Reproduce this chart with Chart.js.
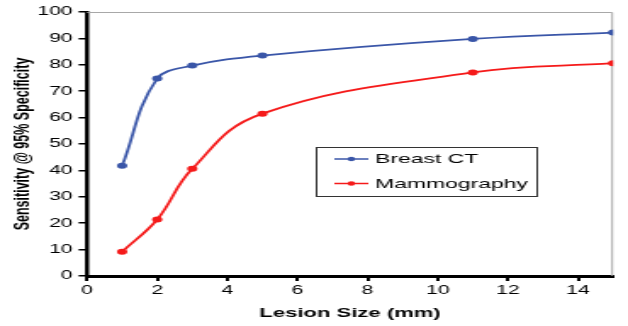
<!DOCTYPE html>
<html>
<head>
<meta charset="utf-8">
<script src="https://cdn.jsdelivr.net/npm/chart.js@4.4.1/dist/chart.umd.min.js"></script>
<style>
  html, body { margin: 0; padding: 0; background: #fff; overflow: hidden; }
  /* the source picture is stretched sideways, so the chart is drawn narrow and widened */
  #wrap { width: 370px; height: 326px; transform: scaleX(1.6973); transform-origin: 0 0; }
</style>
</head>
<body>
<div id="wrap"><canvas id="chart" width="370" height="326"></canvas></div>
<script>
const lesionSizes = [1, 2, 3, 5, 11, 15];
const breastCT = [41.8, 74.8, 79.7, 83.5, 89.8, 92.2];
const mammography = [9.2, 21.4, 40.6, 61.5, 77.1, 80.6];
const xTicks = [0, 2, 4, 6, 8, 10, 12, 14];
const yTicks = [0, 10, 20, 30, 40, 50, 60, 70, 80, 90, 100];
const seriesNames = ['Breast CT', 'Mammography'];

const colors = {
  ct: '#3a56a8',
  mammo: '#f51a1a',
  axis: '#000',
  frame: '#a8a8a8'
};

const font = 'Liberation Sans, Arial, sans-serif';

function toPoints(xs, ys) {
  return xs.map((x, i) => ({ x, y: ys[i] }));
}

// thin grey line on top and right of the plot, like the Excel frame
const framePlugin = {
  id: 'frame',
  beforeDatasetsDraw(chart) {
    const { ctx, chartArea: a } = chart;
    ctx.save();
    ctx.strokeStyle = colors.frame;
    ctx.lineWidth = 1;
    ctx.beginPath();
    ctx.moveTo(a.left, a.top + 0.5);
    ctx.lineTo(a.right - 0.5, a.top + 0.5);
    ctx.lineTo(a.right - 0.5, a.bottom);
    ctx.stroke();
    ctx.restore();
  }
};

// legend box sits inside the plot area
const boxLegend = {
  id: 'boxLegend',
  afterDraw(chart) {
    const { ctx } = chart;
    const box = { x: 186, y: 147, w: 130, h: 49 };
    const rows = [159, 183.5];
    ctx.save();
    ctx.fillStyle = '#fff';
    ctx.fillRect(box.x, box.y, box.w, box.h);
    ctx.strokeStyle = '#333';
    ctx.lineWidth = 1;
    ctx.strokeRect(box.x + 0.5, box.y + 0.5, box.w, box.h);

    chart.data.datasets.forEach((ds, i) => {
      const y = rows[i];
      ctx.strokeStyle = ds.borderColor;
      ctx.lineWidth = 1.5;
      ctx.beginPath();
      ctx.moveTo(197, y);
      ctx.lineTo(217, y);
      ctx.stroke();
      ctx.fillStyle = ds.borderColor;
      ctx.beginPath();
      ctx.arc(207, y, 2.2, 0, Math.PI * 2);
      ctx.fill();
      ctx.fillStyle = '#000';
      ctx.font = `13.5px ${font}`;
      ctx.textBaseline = 'middle';
      ctx.fillText(ds.label, 221, y + 0.5);
    });
    ctx.restore();
  }
};

new Chart(document.getElementById('chart'), {
  type: 'scatter',
  data: {
    datasets: [
      {
        label: seriesNames[0],
        data: toPoints(lesionSizes, breastCT),
        borderColor: colors.ct,
        backgroundColor: colors.ct,
        showLine: true,
        tension: 0.4,
        borderWidth: 1.8,
        pointRadius: 3,
        pointBorderWidth: 0
      },
      {
        label: seriesNames[1],
        data: toPoints(lesionSizes, mammography),
        borderColor: colors.mammo,
        backgroundColor: colors.mammo,
        showLine: true,
        tension: 0.4,
        borderWidth: 1.8,
        pointRadius: 3,
        pointBorderWidth: 0
      }
    ]
  },
  options: {
    responsive: false,
    animation: false,
    devicePixelRatio: 1,
    layout: { padding: { top: 12, right: 8.8, bottom: 0, left: 0 } },
    plugins: {
      legend: { display: false },
      tooltip: { enabled: false }
    },
    scales: {
      x: {
        type: 'linear',
        min: 0,
        max: 15,
        afterBuildTicks: scale => { scale.ticks = xTicks.map(value => ({ value })); },
        afterFit: scale => { scale.height = 50; },
        border: { color: colors.axis, width: 3 },
        grid: { drawOnChartArea: false, color: colors.axis, tickLength: 5, lineWidth: 2 },
        ticks: { color: '#000', padding: 2, font: { family: font, size: 12.5 } },
        title: {
          display: true,
          text: 'Lesion Size (mm)',
          color: '#000',
          font: { family: font, size: 13, weight: 'bold' },
          padding: { top: 2, bottom: 5 }
        }
      },
      y: {
        min: 0,
        max: 100,
        afterBuildTicks: scale => { scale.ticks = yTicks.map(value => ({ value })); },
        afterFit: scale => { scale.width = 51.3; },
        border: { color: colors.axis, width: 2.5 },
        grid: { drawOnChartArea: false, color: colors.axis, tickLength: 5, lineWidth: 1.5 },
        ticks: { color: '#000', padding: 3.5, font: { family: font, size: 12.5 } },
        title: {
          display: true,
          text: 'Sensitivity @ 95% Specificity',
          color: '#000',
          font: { family: font, size: 12.5, weight: 'bold' },
          padding: { top: 6, bottom: 0 }
        }
      }
    }
  },
  plugins: [framePlugin, boxLegend]
});
</script>
</body>
</html>
